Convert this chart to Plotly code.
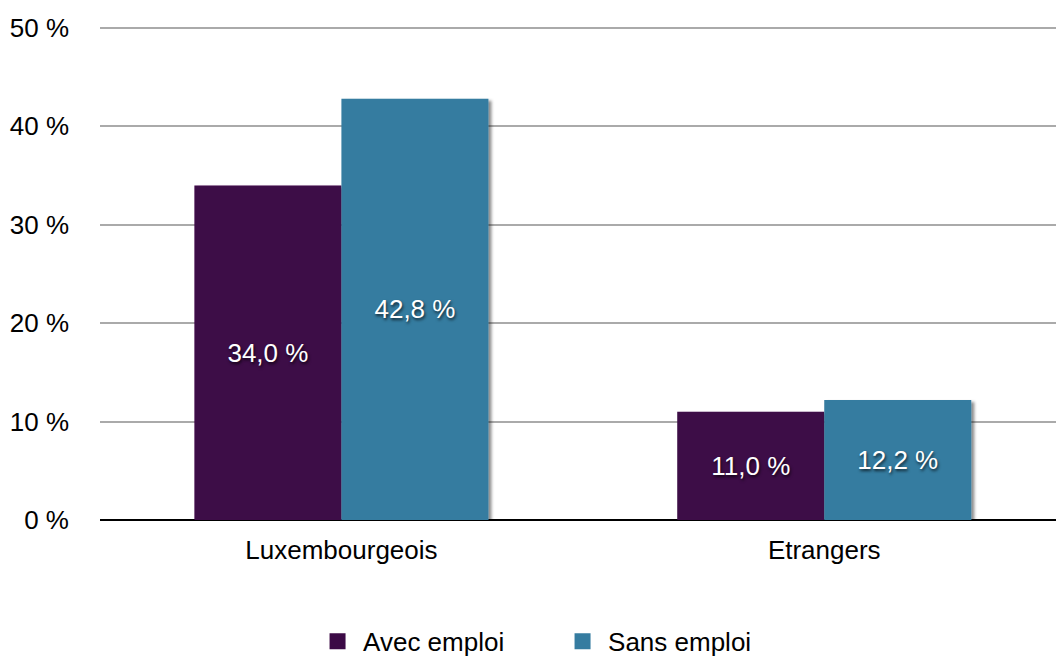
import plotly.graph_objects as go

categories = ['Luxembourgeois', 'Etrangers']
avec_emploi = [34.0, 11.0]
sans_emploi = [42.8, 12.2]
y_ticks = [0, 10, 20, 30, 40, 50]
y_tick_labels = ['0 %', '10 %', '20 %', '30 %', '40 %', '50 %']

font = 'Liberation Sans, Arial, Helvetica, sans-serif'
label_font = dict(color='white', size=26, family=font,
                  shadow='1px 2px 3px rgba(0,0,0,0.7)')

series = [('Avec emploi', avec_emploi, '#3c0a46'),
          ('Sans emploi', sans_emploi, '#357ca0')]

fig = go.Figure()
for name, vals, color in series:
    fig.add_trace(go.Bar(
        x=categories, y=vals, name=name, showlegend=False,
        marker=dict(color=color, line=dict(width=0)),
        texttemplate='%{y:.1f} %', textposition='inside',
        insidetextanchor='middle', textfont=label_font,
    ))
# legend entries with bigger square swatches
for name, vals, color in series:
    fig.add_trace(go.Scatter(
        x=[None], y=[None], name=name, mode='markers',
        marker=dict(symbol='square', size=20, color=color),
    ))

fig.update_layout(
    width=1056, height=657,
    margin=dict(l=100, r=0, t=25, b=137),
    plot_bgcolor='white', paper_bgcolor='white',
    barmode='group', bargap=0.391, bargroupgap=0,
    separators=', ',
    font=dict(family=font, size=26, color='black'),
    uniformtext=dict(minsize=26, mode='show'),
    legend=dict(orientation='h', x=0.2955, xanchor='left', xref='container',
                y=0.024, yanchor='middle', yref='container',
                font=dict(size=26), entrywidth=189, itemwidth=41,
                itemsizing='trace'),
    showlegend=True,
)
fig.update_xaxes(range=[-0.5, 1.48], showgrid=False, showline=False, ticks='',
                 ticklabelstandoff=12, tickfont=dict(size=26))
fig.update_yaxes(range=[0, 50.3], tickvals=y_ticks, ticktext=y_tick_labels,
                 showgrid=True, gridcolor='#aaaaaa', gridwidth=1.5,
                 zeroline=True, zerolinecolor='black', zerolinewidth=2,
                 ticks='', ticklabelstandoff=30, tickfont=dict(size=26))

# page margin off + soft drop shadow under the bars
post = """
document.body.style.margin = '0';
var ns = 'http://www.w3.org/2000/svg';
var svg = document.querySelector('.main-svg');
var defs = svg.querySelector('defs') || svg.insertBefore(document.createElementNS(ns, 'defs'), svg.firstChild);
var f = document.createElementNS(ns, 'filter');
f.setAttribute('id', 'barshadow');
f.setAttribute('x', '-10%'); f.setAttribute('y', '-10%');
f.setAttribute('width', '130%'); f.setAttribute('height', '130%');
var ds = document.createElementNS(ns, 'feDropShadow');
ds.setAttribute('dx', '3'); ds.setAttribute('dy', '2');
ds.setAttribute('stdDeviation', '1.5');
ds.setAttribute('flood-color', '#000'); ds.setAttribute('flood-opacity', '0.45');
f.appendChild(ds); defs.appendChild(f);
document.querySelectorAll('.barlayer .point path').forEach(function (p) {
    p.setAttribute('filter', 'url(#barshadow)');
});
"""

fig.write_html('out.html', config={'displayModeBar': False}, post_script=post)
